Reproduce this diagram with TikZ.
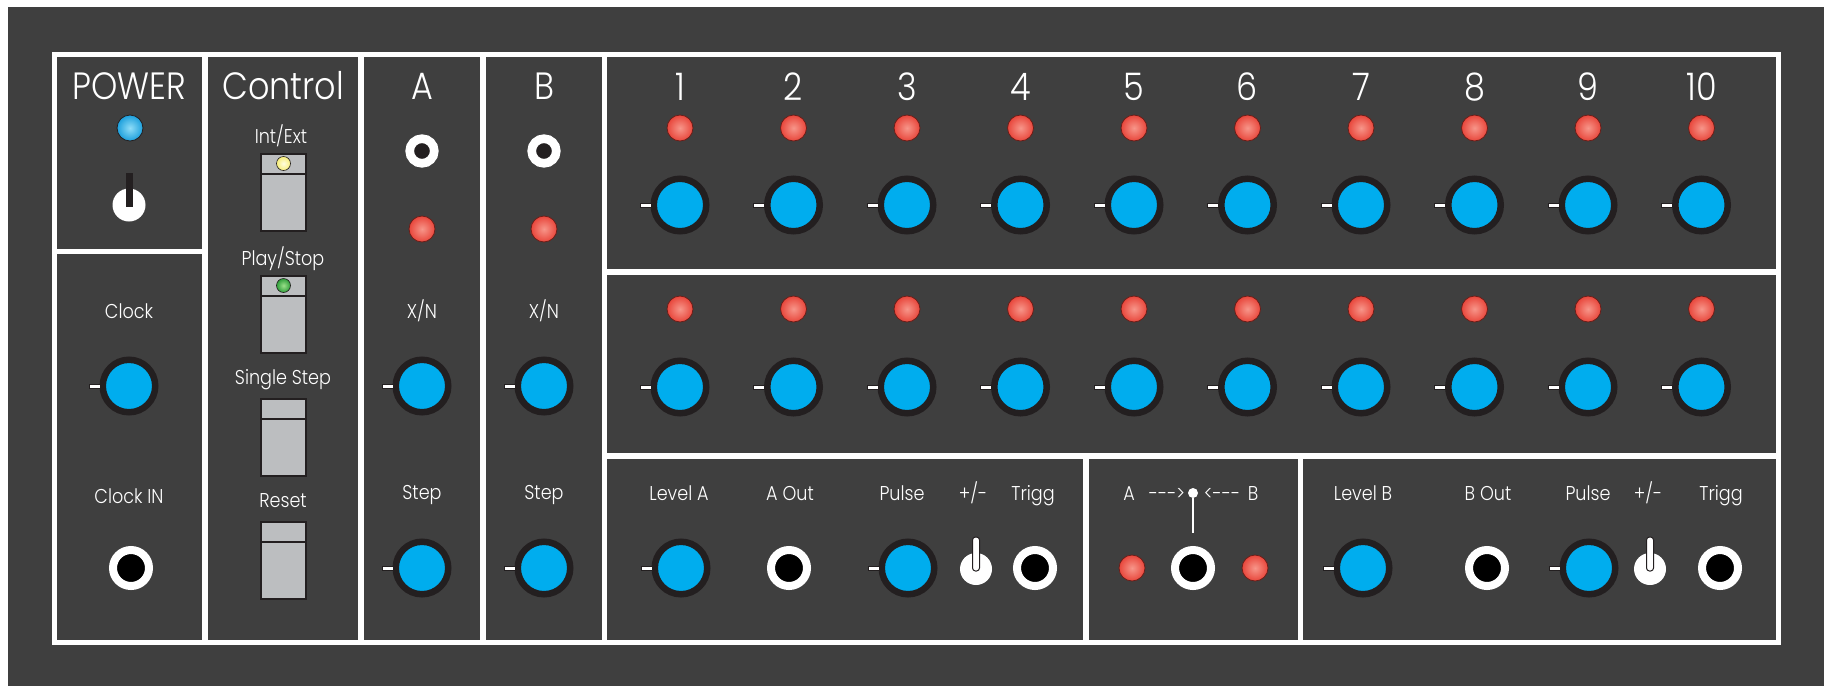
\documentclass[tikz,border=0pt]{standalone}
\usepackage{fontspec}
\setmainfont{Poppins}[UprightFont=* Light, FakeStretch=0.88]
\usetikzlibrary{positioning}

\definecolor{panel}{HTML}{3F3F3F}
\definecolor{ring}{HTML}{231F20}
\definecolor{knobblue}{HTML}{00ADEE}
\definecolor{btngray}{HTML}{BCBEC0}
\definecolor{ledhi}{HTML}{F7968A}
\definecolor{ledlo}{HTML}{E8463B}
\definecolor{ledrim}{HTML}{6B1D18}
\definecolor{pwrhi}{HTML}{8FDDF8}
\definecolor{pwrlo}{HTML}{1C9FDC}
\definecolor{yelhi}{HTML}{FFFDE0}
\definecolor{yello}{HTML}{F7EE7A}
\definecolor{grnhi}{HTML}{9BE08A}
\definecolor{grnlo}{HTML}{2F9E3A}

\begin{document}
\begin{tikzpicture}[x=1pt,y=-1pt,
  lbl/.style={text=white,font=\fontsize{20}{24}\selectfont,anchor=base,inner sep=0},
  big/.style={text=white,font=\fontsize{38}{44}\selectfont,anchor=base,inner sep=0},
  knobtick/.style={rectangle,draw=ring,fill=white,line width=1pt,minimum width=11pt,minimum height=4pt,inner sep=0},
  knob/.style={circle,draw=ring,fill=knobblue,line width=6.5pt,minimum size=52.5pt,inner sep=0,
    label={[knobtick,label distance=-1pt]180:{}}},
  jack/.style={circle,draw=white,fill=black,line width=8pt,minimum size=36pt,inner sep=0},
  minijack/.style={circle,draw=white,fill=ring,line width=8.7pt,minimum size=24.6pt,inner sep=0},
  led/.style={circle,draw=ledrim,line width=0.8pt,minimum size=26pt,inner sep=0,inner color=ledhi,outer color=ledlo},
  btn/.style={rectangle,draw=ring,line width=1.5pt,fill=btngray,minimum width=45pt,minimum height=77pt,inner sep=0,anchor=north},
  toggle/.style={circle,fill=white,minimum size=32pt,inner sep=0}]

\useasboundingbox (0,0) rectangle (1828,686);
\fill[white] (0,0) rectangle (1828,686);
\fill[panel] (8,7) rectangle (1824,686);

% frame and panels
\fill[white] (52,52) rectangle (1781,645);
\foreach \xa/\ya/\xb/\yb in {57/57/202/249, 57/254/202/640, 208/57/358/640,
    364/57/480/640, 486/57/602/640, 607/57/1776/269, 607/275/1776/453,
    607/459/1083/640, 1089/459/1298/640, 1303/459/1776/640}
  \fill[panel] (\xa,\ya) rectangle (\xb,\yb);

% power
\node[big] (power) at (129,99) {POWER};
\node[led,draw=ring,inner color=pwrhi,outer color=pwrlo] (pled) at (130,128) {};
\node[toggle,minimum size=33pt] (psw) at (129,205) {};
\fill[ring] (125.5,207) rectangle (132.5,173);

% clock
\node[lbl] (clk) at (129,318) {Clock};
\node[knob] (kclk) at (129,386) {};
\node[lbl] (clkin) at (129,503) {Clock IN};
\node[jack] (jclk) at (131,568) {};

% control
\node[big] (ctrl) at (283,99) {Control};
\node[lbl] (intext) at (281,143) {Int/Ext};
\node[btn] (b1) at (283.5,153) {};
\node[lbl] (play) at (283,265) {Play/Stop};
\node[btn] (b2) at (283.5,275) {};
\node[lbl] (single) at (283,384) {Single Step};
\node[btn] (b3) at (283.5,398) {};
\node[lbl] (reset) at (283,507) {Reset};
\node[btn] (b4) at (283.5,521) {};
\foreach \i in {1,...,4}
  \draw[ring,line width=1.5pt] ([yshift=-21pt]b\i.north west) -- ([yshift=-21pt]b\i.north east);
\node[led,minimum size=14pt,line width=0.6pt,draw=ring,inner color=yelhi,outer color=yello] (yled) at ([yshift=-10.5pt]b1.north) {};
\node[led,minimum size=14pt,line width=0.6pt,draw=ring,inner color=grnhi,outer color=grnlo] (gled) at ([yshift=-10.5pt]b2.north) {};

% A and B
\foreach \n/\x in {A/422,B/544} {
  \node[big] (t\n) at (\x,99) {\n};
  \node[minijack] (mj\n) at (\x,151) {};
  \node[led] (l\n) at (\x,229) {};
  \node[lbl] (xn\n) at (\x,318) {X/N};
  \node[knob] (kx\n) at (\x,386) {};
  \node[lbl] (st\n) at (\x,499) {Step};
  \node[knob] (ks\n) at (\x,568) {};
}

% the ten steps
\foreach \i [evaluate=\i as \xx using 566.5+113.5*\i] in {1,...,10} {
  \node[big] (n\i) at (\xx,100) {\i};
  \node[led] (la\i) at (\xx,128) {};
  \node[knob] (ka\i) at (\xx,205) {};
  \node[led] (lb\i) at (\xx,309) {};
  \node[knob] (kb\i) at (\xx,387) {};
}

% outputs A
\node[lbl] (lvla) at (679,500) {Level A};
\node[knob] (klvla) at (681,568) {};
\node[lbl] (outa) at (790,500) {A Out};
\node[jack] (jouta) at (789,568) {};
\node[lbl] (pula) at (902,500) {Pulse};
\node[knob] (kpula) at (908,568) {};
\node[lbl] (pma) at (973,500) {+/-};
\node[toggle] (swa) at (976,569) {};
\draw[ring,fill=white,line width=1pt,rounded corners=3pt] (972.5,571) rectangle (979.5,537);
\node[lbl] (trga) at (1033,500) {Trigg};
\node[jack] (jtrga) at (1035,568) {};

% mixer
\node[lbl] (ma) at (1129,500) {A};
\node[lbl] (arra) at (1167,500) {-{}-{}->};
\node[circle,fill=white,minimum size=10pt,inner sep=0] (dot) at (1193,493) {};
\node[lbl] (arrb) at (1222,500) {<-{}-{}-};
\node[lbl] (mb) at (1253,500) {B};
\node[led] (mla) at (1132,568) {};
\node[jack] (jmix) at (1193,568) {};
\node[led] (mlb) at (1255,568) {};
\draw[white,line width=1.5pt] (dot) -- ([yshift=13pt]jmix.north);

% outputs B
\node[lbl] (lvlb) at (1363,500) {Level B};
\node[knob] (klvlb) at (1363,568) {};
\node[lbl] (outb) at (1488,500) {B Out};
\node[jack] (joutb) at (1487,568) {};
\node[lbl] (pulb) at (1588,500) {Pulse};
\node[knob] (kpulb) at (1589,568) {};
\node[lbl] (pmb) at (1648,500) {+/-};
\node[toggle] (swb) at (1650,569) {};
\draw[ring,fill=white,line width=1pt,rounded corners=3pt] (1646.5,571) rectangle (1653.5,537);
\node[lbl] (trgb) at (1721,500) {Trigg};
\node[jack] (jtrgb) at (1720,568) {};
\end{tikzpicture}
\end{document}
